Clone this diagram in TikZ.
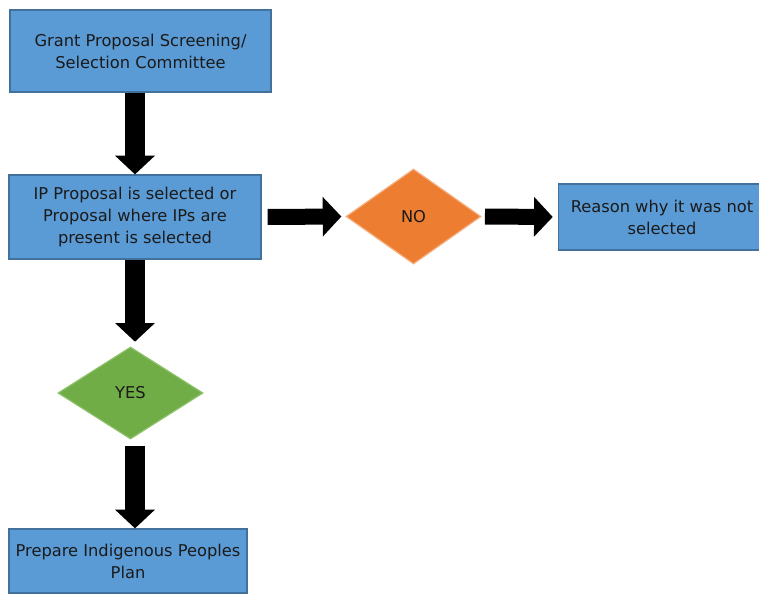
\documentclass[tikz,border=0pt]{standalone}
\usepackage{fontspec}
\setmainfont{DejaVu Sans}
\usetikzlibrary{shapes.geometric,arrows.meta}

\definecolor{bleu}{HTML}{5B9BD5}
\definecolor{bleubord}{HTML}{41719C}
\definecolor{orange}{HTML}{ED7D31}
\definecolor{orangebord}{HTML}{F4B183}
\definecolor{vert}{HTML}{70AD47}
\definecolor{vertbord}{HTML}{8DC26A}
\definecolor{texte}{HTML}{1A1A1A}

\begin{document}
\begin{tikzpicture}[x=0.75pt, y=-0.75pt]
			\tikzset{boite/.style={rectangle, draw=bleubord, fill=bleu, line width=0.9pt, inner sep=0pt, align=center, text=texte, font=\fontsize{12.2}{16.5}\selectfont},
				losange/.style={diamond, inner sep=0pt, line width=0.9pt, text=texte, font=\fontsize{12.2}{16.5}\selectfont},
				fleche/.style={line width=15pt, -{Triangle[width=29pt, length=14pt]}}};

			\useasboundingbox (0,0) rectangle (759,594);

			\node[boite, minimum width=195.8pt, minimum height=61.5pt] (comite) at (140.5,   51) {Grant Proposal Screening/\\Selection Committee};
			\node[boite, minimum width=189pt,   minimum height=63pt]   (ip)     at (  135,  217) {IP Proposal is selected or\\Proposal where IPs are\\present is selected};
			\node[losange, draw=orangebord, fill=orange, minimum width=101.3pt, minimum height=71.3pt] (non) at (413.5, 216.5) {NO};
			\node[boite, minimum width=155pt,   minimum height=49.5pt] (raison) at (  662,  217) {Reason why it was not\\selected};
			\node[losange, draw=vertbord, fill=vert, minimum width=108.8pt, minimum height=69pt] (oui) at (130.5, 393) {YES};
			\node[boite, minimum width=178.5pt, minimum height=48pt]   (plan)   at (  128,  561) {Prepare Indigenous Peoples\\Plan};

			\draw[fleche] (ip.north |- comite.south) -- (ip.north);
			\draw[fleche, shorten >=3.5pt] (ip.south) -- (ip.south |- oui.north);
			\draw[fleche, shorten <=4.5pt] (oui.south -| ip.south) -- (plan.north -| ip.south);
			\draw[fleche, line width=12pt, shorten <=4.5pt, shorten >=3pt] (ip.east) -- (non.west);
			\draw[fleche, line width=12pt, shorten <=2.5pt, shorten >=4pt] (non.east) -- (raison.west);

		\end{tikzpicture}
\end{document}
